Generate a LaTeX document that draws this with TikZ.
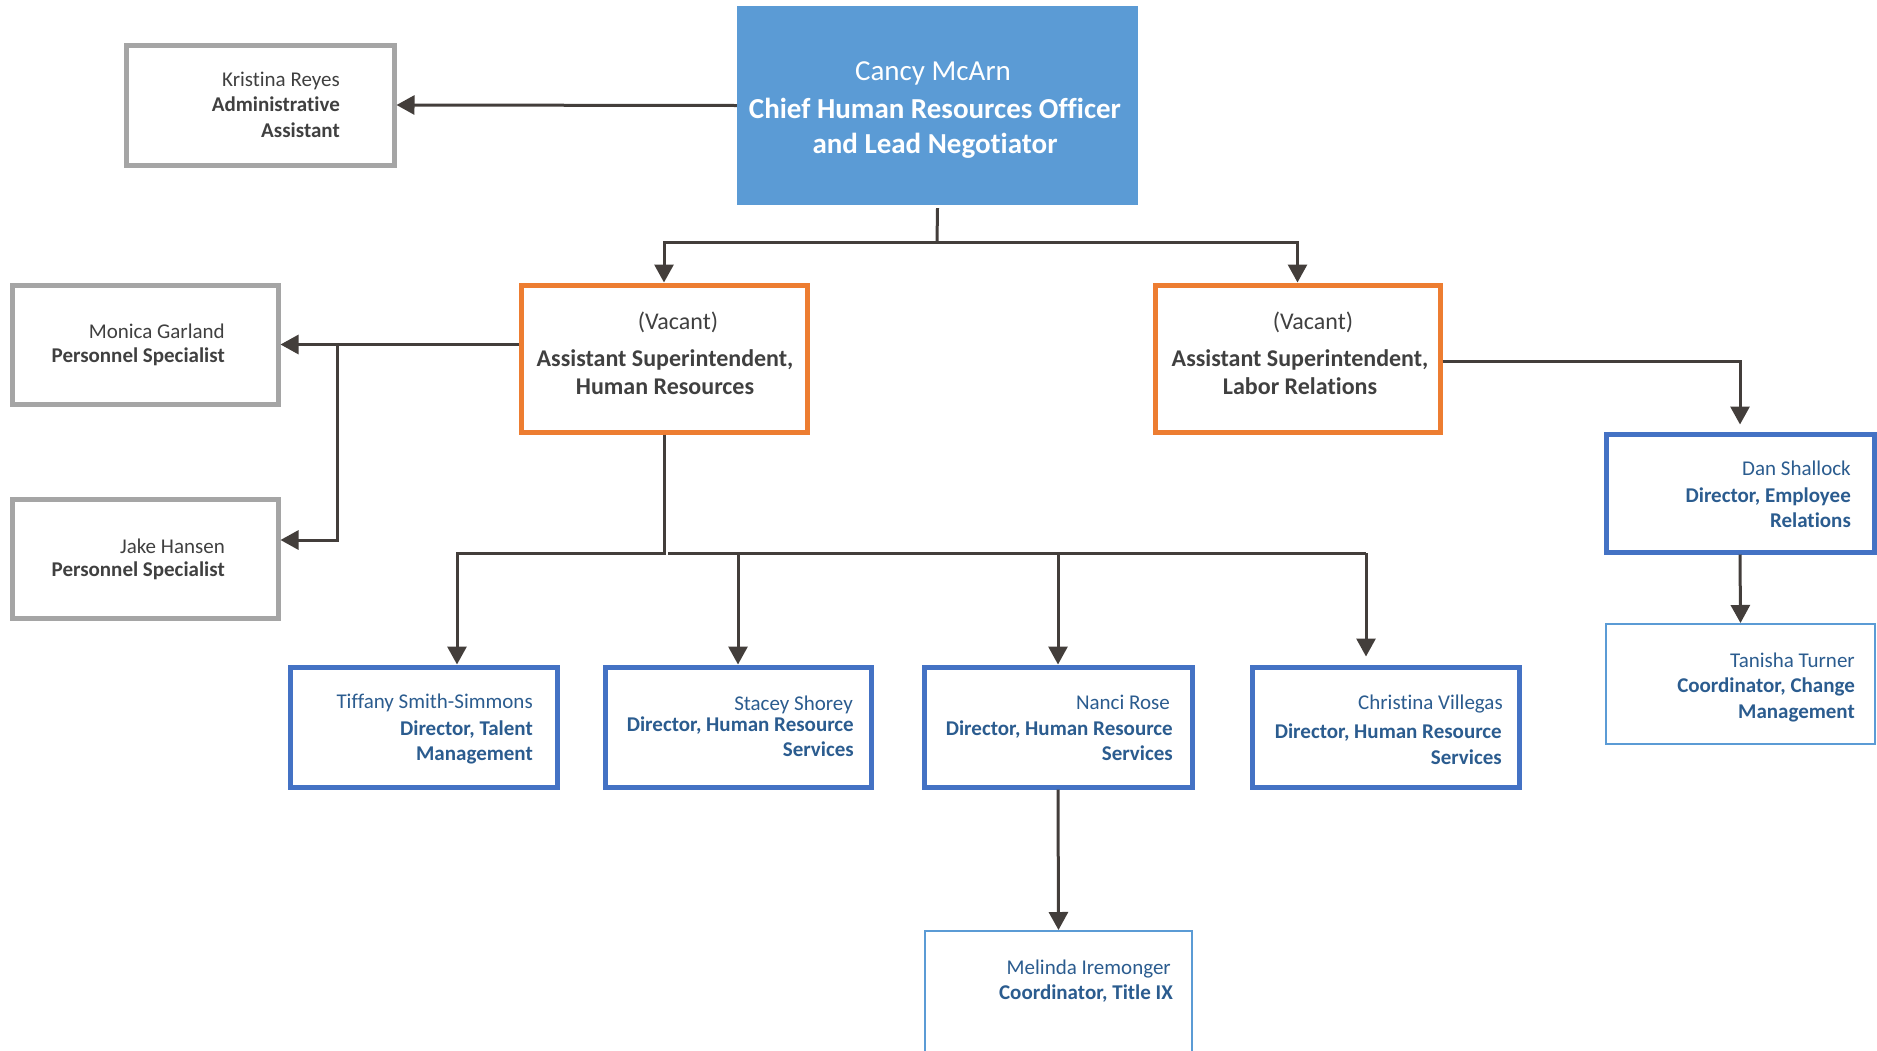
\documentclass[tikz,border=0pt]{standalone}
\usepackage{fontspec}
\setmainfont{Carlito}[Ligatures=NoCommon]
\usetikzlibrary{arrows.meta}
\definecolor{ceofill}{HTML}{5B9BD5}
\definecolor{grayline}{HTML}{A5A5A5}
\definecolor{orangeline}{HTML}{ED7D31}
\definecolor{blueline}{HTML}{4472C4}
\definecolor{lightblueline}{HTML}{5B9BD5}
\definecolor{txtgray}{HTML}{404040}
\definecolor{txtblue}{HTML}{2B5C8F}
\definecolor{connc}{HTML}{433E3B}
\tikzset{
  x=1pt, y=-1pt,
  boxbase/.style={rectangle, inner sep=0pt, fill=white},
  graybox/.style={boxbase, draw=grayline, line width=5pt},
  orangebox/.style={boxbase, draw=orangeline, line width=5pt},
  bluebox/.style={boxbase, draw=blueline, line width=5pt},
  thinbox/.style={boxbase, draw=lightblueline, line width=2pt},
  ceobox/.style={rectangle, inner sep=0pt, fill=ceofill},
  conn/.style={draw=connc, line width=3pt},
  arr/.style={conn, -{Triangle[length=18pt,width=19pt]}},
  tx/.style={inner sep=0pt, anchor=base east, font=\fontsize{21}{25}\selectfont},
  txc/.style={inner sep=0pt, anchor=base, font=\fontsize{24}{29}\selectfont, text=txtgray},
  ceotx/.style={inner sep=0pt, anchor=base, font=\fontsize{29}{35}\selectfont, text=white},
}
\begin{document}
\begin{tikzpicture}
\useasboundingbox (0,0) rectangle (1877,1050);
\clip (0,0) rectangle (1877,1050);
% boxes
\node[ceobox, minimum width=401pt, minimum height=199pt] (ceo) at (937.5,105.5) {};
\node[graybox, minimum width=268pt, minimum height=120pt] (kr) at (260,105) {};
\node[orangebox, minimum width=286pt, minimum height=147pt] (hr) at (664,358.5) {};
\node[orangebox, minimum width=285pt, minimum height=147pt] (lr) at (1297.5,358.5) {};
\node[graybox, minimum width=266pt, minimum height=119pt] (mg) at (145,344.5) {};
\node[graybox, minimum width=266pt, minimum height=119pt] (jh) at (145,558.5) {};
\node[bluebox, minimum width=268pt, minimum height=118pt] (ds) at (1740,493) {};
\node[thinbox, minimum width=269pt, minimum height=120pt] (tt) at (1740.5,684) {};
\node[bluebox, minimum width=267pt, minimum height=120pt] (ts) at (423.5,727) {};
\node[bluebox, minimum width=266pt, minimum height=120pt] (ss) at (738,727) {};
\node[bluebox, minimum width=268pt, minimum height=120pt] (nr) at (1058,727) {};
\node[bluebox, minimum width=267pt, minimum height=120pt] (cv) at (1385.5,727) {};
\node[thinbox, minimum width=267pt, minimum height=139pt] (mi) at (1058.5,1000.5) {};
% texts
\node[ceotx] (ceo1) at (933,80) {Cancy McArn};
\node[ceotx] (ceo2) at (935,118) {\bfseries Chief Human Resources Officer};
\node[ceotx] (ceo3) at (935,153) {\bfseries and Lead Negotiator};
\node[tx, text=txtgray] (kr1) at (340,86) {Kristina Reyes};
\node[tx, text=txtgray] (kr2) at (340,111) {\bfseries Administrative};
\node[tx, text=txtgray] (kr3) at (340,137) {\bfseries Assistant};
\node[txc] (hr1) at (678,329) {(Vacant)};
\node[txc] (hr2) at (665,366) {\bfseries Assistant Superintendent,};
\node[txc] (hr3) at (665,394) {\bfseries Human Resources};
\node[txc] (lr1) at (1313,329) {(Vacant)};
\node[txc] (lr2) at (1300,366) {\bfseries Assistant Superintendent,};
\node[txc] (lr3) at (1300,394) {\bfseries Labor Relations};
\node[tx, text=txtgray] (mg1) at (225,338) {Monica Garland};
\node[tx, text=txtgray] (mg2) at (225,362) {\bfseries Personnel Specialist};
\node[tx, text=txtgray] (jh1) at (225,553) {Jake Hansen};
\node[tx, text=txtgray] (jh2) at (225,576) {\bfseries Personnel Specialist};
\node[tx, text=txtblue] (ds1) at (1851,475) {Dan Shallock};
\node[tx, text=txtblue] (ds2) at (1851,502) {\bfseries Director, Employee};
\node[tx, text=txtblue] (ds3) at (1851,527) {\bfseries Relations};
\node[tx, text=txtblue] (tt1) at (1855,667) {Tanisha Turner};
\node[tx, text=txtblue] (tt2) at (1855,692) {\bfseries Coordinator, Change};
\node[tx, text=txtblue] (tt3) at (1855,718) {\bfseries Management};
\node[tx, text=txtblue] (ts1) at (533,708) {Tiffany Smith-Simmons};
\node[tx, text=txtblue] (ts2) at (533,735) {\bfseries Director, Talent};
\node[tx, text=txtblue] (ts3) at (533,760) {\bfseries Management};
\node[tx, text=txtblue] (ss1) at (853,710) {Stacey Shorey};
\node[tx, text=txtblue] (ss2) at (854,731) {\bfseries Director, Human Resource};
\node[tx, text=txtblue] (ss3) at (854,756) {\bfseries Services};
\node[tx, text=txtblue] (nr1) at (1170,709) {Nanci Rose};
\node[tx, text=txtblue] (nr2) at (1173,735) {\bfseries Director, Human Resource};
\node[tx, text=txtblue] (nr3) at (1173,760) {\bfseries Services};
\node[tx, text=txtblue] (cv1) at (1503,709) {Christina Villegas};
\node[tx, text=txtblue] (cv2) at (1502,738) {\bfseries Director, Human Resource};
\node[tx, text=txtblue] (cv3) at (1502,764) {\bfseries Services};
\node[tx, text=txtblue] (mi1) at (1171,974) {Melinda Iremonger};
\node[tx, text=txtblue] (mi2) at (1173,999) {\bfseries Coordinator, Title IX};
% connectors
\draw[arr] (ceo.west) -- (kr.east);
\coordinate (c1) at (937,242);
\draw[conn] ([yshift=-3pt]ceo.south) -- (c1);
\draw[arr] (c1) -| (hr.north);
\draw[arr] (c1) -| (lr.north);
\draw[arr] (hr.west |- mg.east) -- (mg.east);
\coordinate (b1) at (337,344.5);
\draw[arr] (b1) |- ([yshift=18.5pt]jh.east);
\coordinate (h1) at (457,553);
\coordinate (h2) at (668,553);
\coordinate (h3) at (1366,553);
\draw[arr] (hr.south) |- (h1) -- (h1 |- ts.north);
\draw[conn] (h2) -- (h3);
\draw[arr] (h2 -| ss.north) -- (ss.north);
\draw[arr] (h2 -| nr.north) -- (nr.north);
\draw[arr, shorten >=8pt] (h3) -- (h3 |- cv.north);
\draw[arr, shorten >=7pt] ([yshift=-2.5pt]lr.east) -| (ds.north);
\draw[arr] (ds.south) -- (tt.north);
\draw[arr] (nr.south) -- (mi.north);
\end{tikzpicture}
\end{document}
